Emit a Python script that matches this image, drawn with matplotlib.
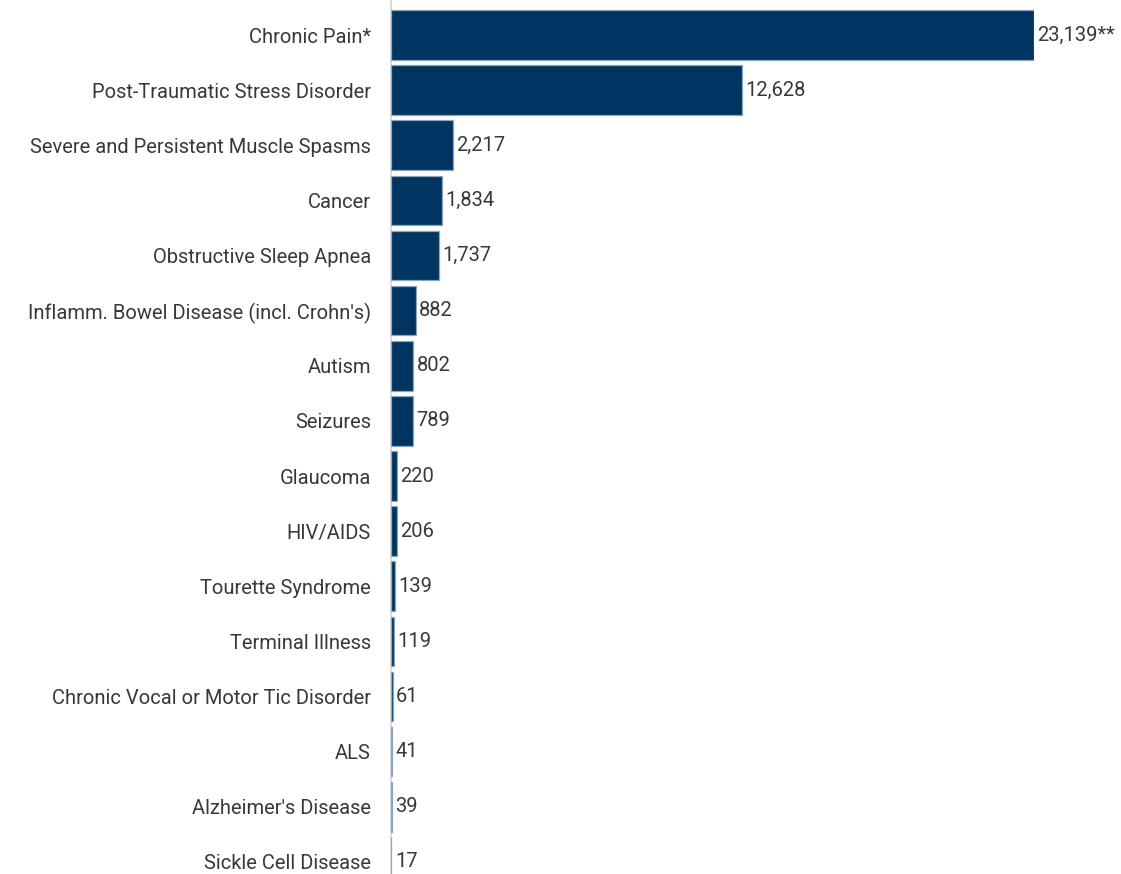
import matplotlib
matplotlib.use("Agg")
import matplotlib.pyplot as plt

# data
conditions = [
    "Chronic Pain*",
    "Post-Traumatic Stress Disorder",
    "Severe and Persistent Muscle Spasms",
    "Cancer",
    "Obstructive Sleep Apnea",
    "Inflamm. Bowel Disease (incl. Crohn's)",
    "Autism",
    "Seizures",
    "Glaucoma",
    "HIV/AIDS",
    "Tourette Syndrome",
    "Terminal Illness",
    "Chronic Vocal or Motor Tic Disorder",
    "ALS",
    "Alzheimer's Disease",
    "Sickle Cell Disease",
]
patients = [23139, 12628, 2217, 1834, 1737, 882, 802, 789, 220, 206, 139, 119, 61, 41, 39, 17]
value_labels = ["23,139**", "12,628", "2,217", "1,834", "1,737", "882", "802", "789",
                "220", "206", "139", "119", "61", "41", "39", "17"]

plt.rcParams['font.family'] = ['Roboto', 'DejaVu Sans']

W, H = 1121, 874
fig = plt.figure(figsize=(W / 100, H / 100), dpi=100)
ax = fig.add_axes([391 / W, 0, (1034 - 391) / W, 1])

ypos = list(range(len(conditions)))
# bars above the axis line so the tiny ones still show
ax.barh(ypos, patients, height=0.9, color="#003561",
        edgecolor="#8aa5c2", linewidth=0.9, zorder=3)

ax.set_xlim(0, max(patients))
ax.set_ylim(15.22, -0.635)

for y, v, lab in zip(ypos, patients, value_labels):
    ax.annotate(lab, (v, y), xytext=(2.5, 0), textcoords="offset points",
                va="center", ha="left", fontsize=14.5, color="#383838",
                annotation_clip=False)

ax.set_yticks(ypos)
ax.set_yticklabels(conditions, fontsize=14.5, color="#383838")
ax.tick_params(axis="y", length=0, pad=14.5)
ax.set_xticks([])

for s in ["top", "right", "bottom"]:
    ax.spines[s].set_visible(False)
ax.spines["left"].set_color("#dcdcdc")
ax.spines["left"].set_linewidth(1.5)

plt.savefig("out.png", dpi=100)
